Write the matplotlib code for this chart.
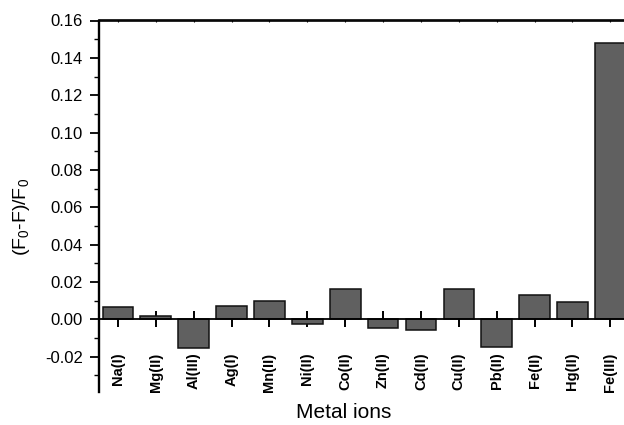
import matplotlib
matplotlib.use("Agg")
import matplotlib.pyplot as plt
from matplotlib.ticker import MultipleLocator, FormatStrFormatter

categories = ["Na(I)", "Mg(II)", "Al(III)", "Ag(I)", "Mn(II)", "Ni(II)", "Co(II)",
              "Zn(II)", "Cd(II)", "Cu(II)", "Pb(II)", "Fe(II)", "Hg(II)", "Fe(III)"]
values = [0.0064, 0.0019, -0.0153, 0.0073, 0.0098, -0.0027, 0.0162,
          -0.0048, -0.0057, 0.0162, -0.0150, 0.0130, 0.0094, 0.1479]

plt.rcParams['font.family'] = ['Liberation Sans', 'DejaVu Sans']
plt.rcParams['mathtext.default'] = 'regular'

fig = plt.figure(figsize=(6.24, 4.25), dpi=100)
ax = fig.add_axes([99/624, 1 - 392.2/425, 1 - 99/624, (392.2 - 20.5)/425])

x = list(range(len(categories)))
ax.bar(x, values, width=0.81, color='#606060', edgecolor='#111111', linewidth=1.1, zorder=2)

ax.set_xlim(-0.5, 13.36)
ax.set_ylim(-0.039, 0.16)

ax.spines['right'].set_visible(False)
ax.spines['bottom'].set_position(('data', 0))
ax.spines['bottom'].set_linewidth(1.3)
ax.spines['bottom'].set_zorder(3)
ax.spines['left'].set_linewidth(1.7)
ax.spines['top'].set_linewidth(1.2)

ax.set_xticks(x)
ax.set_xticklabels(categories, rotation=90, fontweight='bold', fontsize=10.5, va='top')
ax.tick_params(axis='x', direction='inout', length=11, width=1.4, pad=18.5, zorder=4)

ax.yaxis.set_major_locator(MultipleLocator(0.02))
ax.yaxis.set_minor_locator(MultipleLocator(0.01))
ax.yaxis.set_major_formatter(FormatStrFormatter('%.2f'))
ax.tick_params(axis='y', which='major', direction='out', length=6.5, width=1.3, labelsize=12, pad=5)
ax.tick_params(axis='y', which='minor', direction='out', length=3.6, width=1.0)

sec = ax.secondary_xaxis('top')
sec.set_xticks(x)
sec.tick_params(direction='in', length=1.5, width=0.8, labeltop=False)
sec.spines['top'].set_linewidth(1.2)

fig.text(344/624, 1 - 412/425, 'Metal ions', ha='center', va='center', fontsize=15)
fig.text(22/624, 1 - 217/425, '(F$_0$-F)/F$_0$', ha='center', va='center',
         rotation=90, fontsize=14)

fig.savefig('out.png', dpi=100)
